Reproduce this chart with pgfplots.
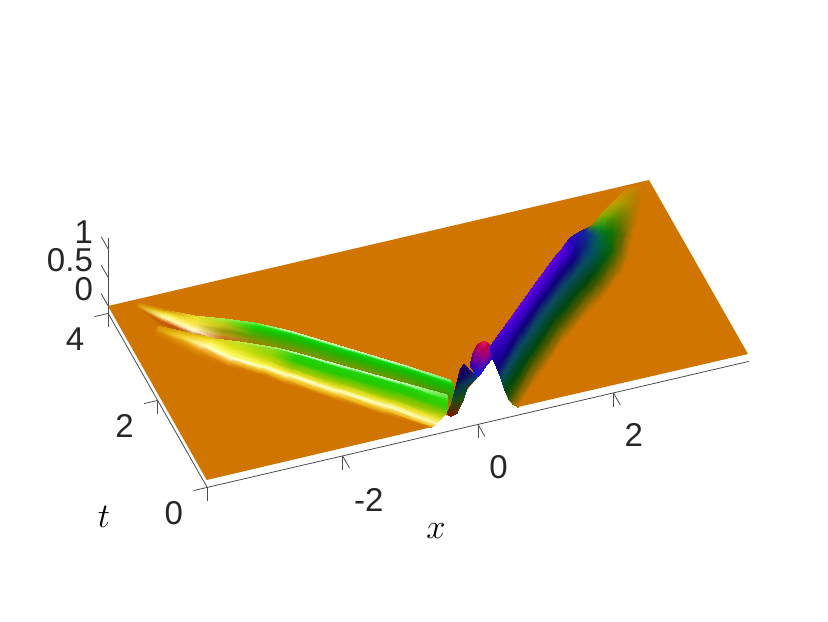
\documentclass[border=0pt]{standalone}
\usepackage{pgfplots}
\usepackage{fontspec}
\setmainfont{Liberation Sans}
\pgfplotsset{compat=1.18}
\definecolor{plate}{RGB}{208,118,0}
\definecolor{axln}{gray}{0.3}
\pgfplotsset{
  /pgfplots/table/pxmap/.style={
    x expr={0.013044*(\thisrow{X}-478)+0.0074218*(417-\thisrow{Y}-57*\thisrow{z})},
    y expr={0.020301*(417-\thisrow{Y}-57*\thisrow{z})-0.004723*(\thisrow{X}-478)},
    z expr={\thisrow{z}}},
  band/.style={surf,shader=interp,draw=none,mesh/color input=explicit mathparse,
    mesh/colorspace explicit color input=rgb,
    point meta={symbolic={\thisrow{R}/255,\thisrow{G}/255,\thisrow{B}/255}},
    mesh/cols=#1}
}
\begin{document}
\begin{tikzpicture}
\path[use as bounding box] (-239pt,-102pt) rectangle (175pt,208.5pt);
\begin{axis}[
  anchor=origin, at={(0,0)},
  x={(33.85pt,7.875pt)}, y={(-12.375pt,21.75pt)}, z={(0pt,28.5pt)},
  xmin=-4,xmax=4,ymin=0,ymax=4,zmin=-0.13,zmax=1.19,
  clip=false,
  axis lines=left,
  axis line style={draw=axln,line width=0.4pt,-},
  tick style={draw=axln,line width=0.4pt},
  major tick length=7pt,
  tick align=outside,
  every z tick/.style={draw=none},
  xtick={-2,0,2},ytick={0,2,4},ztick={0,0.5,1},
  xticklabels={\hspace{5pt}-2,0,2},yticklabels={0,2,4},zticklabels={0,0.5,1},
  every tick label/.append style={font=\fontsize{16.5}{18}\selectfont,text=black!85},
  every x tick label/.append style={xshift=4pt,yshift=-4.5pt},
  every y tick label/.append style={xshift=-2pt,yshift=-1.5pt},
  every z tick label/.append style={anchor=east,inner sep=0pt,xshift=-4pt,yshift=2.5pt},
  /pgf/number format/assume math mode=true,
]
% z ticks point along +t
\addplot3[axln,line width=0.4pt] coordinates {(-4,4,0) (-4,4.28,0)};
\addplot3[axln,line width=0.4pt] coordinates {(-4,4,0.5) (-4,4.28,0.5)};
\addplot3[axln,line width=0.4pt] coordinates {(-4,4,1) (-4,4.28,1)};
% flat sheet, with the arch left open under the t=0 profile
\addplot3[draw=none,fill=plate] table[pxmap] {
X Y z
206.7 480 0
432 427 0
445 415 0
450 416 0
455 415 0
462 403 0
467 390 0
478 377 0
492 358 0
500 373 0
504 385 0
507 397 0
511 403 0
518 407 0
748 354 0
649 180 0
108 306 0
};
% back branch
\addplot3[band=8] table[pxmap] {
X Y z R G B
138 303 0.02 214 140 0
138 304 0.02 215 145 0
138 305 0.02 215 145 0
138 305 0.01 214 140 0
137 306 0.01 212 130 0
137 306 0.01 210 125 0
137 307 0.01 208 120 0
137 308 0 208 118 0
165 310 0.3 215 145 5
165 312 0.3 235 205 30
164 314 0.3 255 240 90
164 316 0.25 255 250 170
164 318 0.2 255 240 150
163 320 0.1 225 130 30
162 322 0.05 190 85 10
160 326 0 208 118 0
195 316 0.4 235 220 40
195 319 0.4 240 225 50
195 323 0.35 250 230 70
195 326 0.3 255 235 110
195 329 0.2 255 250 190
195 331 0.15 255 250 210
194 335 0.05 190 70 10
193 342 0 208 118 0
225 319 0.45 170 230 80
225 322 0.45 170 215 20
225 326 0.4 190 190 20
224 331 0.35 150 150 10
224 335 0.25 190 150 30
224 338 0.15 200 110 30
223 342 0.05 210 120 30
222 348 0 208 118 0
255 323 0.45 100 235 60
255 326 0.45 20 215 5
255 330 0.4 40 185 0
254 335 0.35 80 165 0
254 339 0.25 125 150 0
254 343 0.15 160 125 0
253 347 0.05 190 110 0
252 352 0 208 118 0
290 331 0.45 190 255 180
290 333 0.45 10 215 10
290 338 0.4 25 185 0
289 343 0.35 70 165 0
289 348 0.25 120 150 0
289 352 0.15 150 130 0
288 355 0.05 175 118 0
287 360 0 208 118 0
350 349 0.45 190 255 180
350 351 0.45 10 215 10
350 356 0.4 25 185 0
349 361 0.35 70 165 0
349 366 0.25 120 150 0
349 370 0.15 150 130 0
348 373 0.05 175 118 0
347 378 0 208 118 0
400 364 0.45 190 255 180
400 366 0.45 10 215 10
400 371 0.4 25 185 0
399 376 0.35 70 165 0
399 381 0.25 120 150 0
399 385 0.15 150 130 0
398 388 0.05 175 118 0
397 393 0 208 118 0
450 380 0.45 130 240 110
452 383 0.45 15 215 5
454 387 0.4 20 190 0
454 392 0.35 40 170 0
453 397 0.25 80 140 0
452 401 0.15 130 120 0
451 404 0.05 165 118 0
450 409 0 208 118 0
};
% front branch
\addplot3[band=8] table[pxmap] {
X Y z R G B
157 326 0.02 215 145 0
157 326 0.02 215 150 5
157 327 0.02 215 150 5
157 329 0.02 215 148 5
156 329 0.02 215 145 0
156 330 0.01 212 135 0
155 332 0.01 210 125 0
155 335 0 208 118 0
185 332 0.3 220 170 10
185 332 0.3 225 175 15
183 334 0.3 235 190 25
182 335 0.25 245 205 40
181 336 0.2 245 210 50
180 337 0.15 240 200 40
178 341 0.05 220 140 10
175 345 0 208 118 0
215 339 0.4 225 205 20
214 339 0.4 230 215 30
211 341 0.35 250 235 60
209 344 0.3 255 250 120
207 345 0.25 255 255 180
205 346 0.15 255 250 170
200 350 0.05 230 150 20
195 355 0 208 118 0
240 342 0.45 200 230 60
239 343 0.45 190 225 30
237 348 0.4 215 225 20
235 352 0.3 240 240 60
233 356 0.2 255 250 120
232 358 0.15 255 255 210
230 362 0.05 240 170 30
228 366 0 208 118 0
277 348 0.45 170 240 110
276 349 0.45 130 220 30
272 355 0.4 150 210 0
269 360 0.3 200 215 10
266 364 0.2 245 240 60
264 367 0.15 255 255 190
262 370 0.05 240 190 30
260 374 0 208 118 0
300 354 0.45 190 255 180
299 355 0.45 25 215 10
296 361 0.4 40 200 0
293 368 0.3 150 200 0
291 372 0.2 235 225 40
289 375 0.15 255 255 190
287 379 0.05 240 190 30
285 383 0 208 118 0
350 368 0.45 190 255 180
349 370 0.45 25 215 10
346 376 0.4 40 200 0
343 383 0.3 150 200 0
341 388 0.2 235 225 40
339 391 0.15 255 255 190
337 395 0.05 240 190 30
335 399 0 208 118 0
400 382 0.45 190 255 180
399 384 0.45 25 215 10
396 390 0.4 40 200 0
392 398 0.3 150 200 0
390 402 0.2 235 225 40
388 406 0.15 255 255 190
386 410 0.05 240 190 30
384 414 0 208 118 0
447 395 0.45 120 230 80
448 400 0.45 40 220 10
448 407 0.4 50 205 0
446 413 0.3 140 195 0
441 419 0.2 235 225 40
436 423 0.15 255 250 170
433 426 0.05 240 190 30
431 427 0 208 118 0
};
% lobe between the branches and the central peak
\addplot3[band=3] table[pxmap] {
X Y z R G B
460 370 0.8 30 0 100
464 364 0.85 45 0 95
469 370 0.8 25 0 100
458 379 0.7 10 10 90
463 375 0.7 10 0 90
477 377 0.7 20 60 100
455 391 0.45 0 60 70
461 385 0.45 5 50 80
467 388 0.5 0 70 50
452 403 0.25 30 80 10
457 399 0.25 20 80 20
463 400 0.3 40 80 10
447 414 0.05 120 25 0
451 416 0.05 120 25 0
457 413 0.05 110 40 0
};
% central peak
\addplot3[band=6] table[pxmap] {
X Y z R G B
470 366 0.9 70 0 120
473 353 0.95 130 0 130
478 344 1 190 0 70
484 341 1 235 30 70
489 344 1 190 0 80
492 352 0.95 130 0 160
472 368 0.9 50 0 170
475 358 0.9 130 0 150
479 351 0.9 170 0 110
484 349 0.9 185 0 80
488 351 0.9 170 0 110
492 355 0.9 110 0 180
474 371 0.85 30 10 190
477 365 0.85 70 0 180
481 360 0.85 130 0 150
485 358 0.85 150 0 140
488 357 0.85 130 0 150
492 357 0.85 70 0 200
476 375 0.8 20 30 200
478 377 0.8 15 30 215
481 373 0.8 15 30 215
485 367 0.8 20 20 210
489 362 0.8 25 10 210
492 358 0.8 40 0 210
};
% right branch
\addplot3[band=8] table[pxmap] {
X Y z R G B
490 347 1 60 0 200
492 357 0.93 30 0 170
497 368 0.75 15 5 125
501 378 0.55 10 75 95
505 390 0.38 0 70 15
509 399 0.22 60 85 0
513 404 0.1 140 105 0
518 407 0 208 118 0
511 318 1 95 0 225
514 324 0.93 60 0 200
519 332 0.75 15 0 125
524 341 0.55 10 75 95
531 352 0.38 0 70 15
534 358 0.22 60 85 0
538 366 0.1 140 105 0
542 372 0 208 118 0
533 287 1 95 0 225
537 293 0.93 60 0 200
541 300 0.75 15 0 125
547 308 0.55 10 75 95
554 318 0.38 0 70 15
558 325 0.22 60 85 0
563 331 0.1 140 105 0
567 337 0 208 118 0
555 257 1 95 0 225
560 262 0.93 60 0 200
565 269 0.75 15 0 125
573 277 0.55 10 75 95
581 287 0.38 0 70 15
587 292 0.22 60 85 0
592 298 0.1 140 105 0
597 304 0 208 118 0
562 249 1 90 0 220
567 254 0.93 60 0 200
573 260 0.75 15 0 125
581 267 0.55 10 75 95
590 277 0.38 0 70 15
596 282 0.22 60 85 0
602 288 0.1 140 105 0
607 293 0 208 118 0
570 238 0.95 45 0 190
576 242 0.9 25 10 170
583 247 0.75 15 30 130
592 253 0.55 5 80 100
603 260 0.38 0 85 20
609 264 0.22 65 95 0
616 269 0.1 145 110 0
622 273 0 208 118 0
583 230 0.8 25 30 160
588 234 0.75 10 50 140
594 238 0.65 5 80 110
601 243 0.5 0 100 60
611 250 0.35 10 100 10
616 254 0.2 80 100 0
622 258 0.1 150 110 0
627 262 0 208 118 0
593 225 0.6 70 150 20
600 228 0.55 20 140 30
604 230 0.5 10 125 20
609 232 0.4 10 115 5
615 234 0.3 40 110 0
623 237 0.2 100 105 0
627 238 0.1 160 110 0
632 241 0 208 118 0
600 216 0.45 150 170 0
606 217 0.4 110 165 0
610 218 0.35 90 150 0
616 219 0.3 90 135 0
622 219 0.2 110 125 0
629 221 0.15 150 120 0
633 221 0.05 180 115 0
638 222 0 208 118 0
612 203 0.3 195 160 0
617 204 0.3 180 160 0
620 204 0.25 170 155 0
625 205 0.2 165 145 0
629 205 0.15 170 135 0
635 206 0.1 180 125 0
638 206 0.05 195 120 0
642 207 0 208 118 0
628 188 0.1 205 130 0
631 189 0.1 200 135 0
632 190 0.08 195 135 0
634 191 0.06 195 130 0
637 192 0.05 195 125 0
640 193 0.03 200 122 0
641 194 0.02 205 120 0
643 195 0 208 118 0
640 185 0 208 118 0
641 185 0 208 118 0
641 186 0 208 118 0
642 187 0 208 118 0
642 188 0 208 118 0
643 189 0 208 118 0
643 189 0 208 118 0
644 190 0 208 118 0
};
\node[font=\fontsize{17}{20}\selectfont] at (axis cs:-1.394,-2.116,0) {$x$};
\node[font=\fontsize{17}{20}\selectfont] at (axis cs:-5.62,-0.264,0) {$t$};
\end{axis}
\end{tikzpicture}
\end{document}
